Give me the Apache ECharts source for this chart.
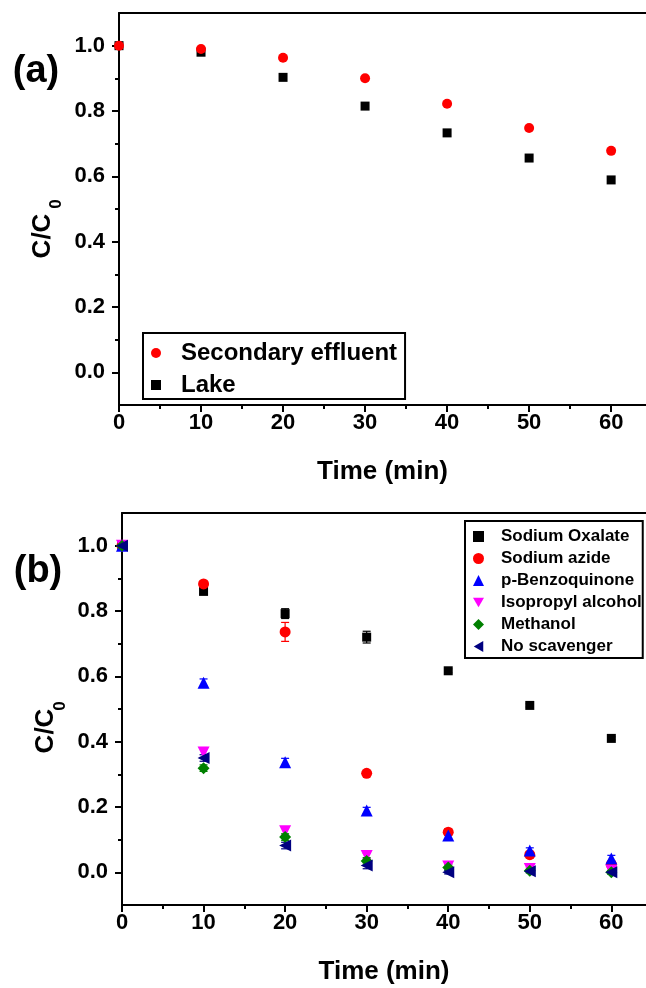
<!DOCTYPE html>
<html>
<head>
<meta charset="utf-8">
<script src="https://cdn.jsdelivr.net/npm/echarts@6/dist/echarts.min.js"></script>
<style>
html,body{margin:0;padding:0;background:#fff;}
#chart{width:646px;height:988px;}
</style>
</head>
<body>
<div id="chart"></div>
<script>
// ---- Data ----
const timeA = [0, 10, 20, 30, 40, 50, 60];
const secondaryEffluent = [1.0, 0.99, 0.963, 0.90, 0.822, 0.748, 0.678];
const lake = [1.0, 0.98, 0.903, 0.815, 0.733, 0.656, 0.589];

const timeB = [0, 10, 20, 30, 40, 50, 60];
const sodiumOxalate    = [1.0, 0.86, 0.792, 0.72, 0.617, 0.511, 0.41];
const sodiumAzide      = [1.0, 0.883, 0.736, 0.303, 0.123, 0.054, 0.024];
const pBenzoquinone    = [1.0, 0.58, 0.337, 0.189, 0.113, 0.067, 0.042];
const isopropylAlcohol = [1.0, 0.367, 0.126, 0.05, 0.018, 0.01, 0.005];
const methanol         = [1.0, 0.319, 0.108, 0.035, 0.015, 0.005, 0.0];
const noScavenger      = [1.0, 0.35, 0.082, 0.021, 0.0, 0.003, 0.0];

const errOxalate   = [0, 0.008, 0.015, 0.018, 0.006, 0.005, 0.005];
const errAzide     = [0, 0.008, 0.029, 0.005, 0.01, 0.01, 0.01];
const errBenzo     = [0, 0.012, 0.012, 0.01, 0.015, 0.008, 0.01];
const errIsoprop   = [0, 0.015, 0.012, 0.008, 0.008, 0.005, 0.005];
const errMethanol  = [0, 0.01, 0.01, 0.01, 0.008, 0.005, 0.005];
const errNoScav    = [0, 0.01, 0.01, 0.01, 0.005, 0.005, 0.005];

const xMajorTicks = [0, 10, 20, 30, 40, 50, 60];
const xMinorTicks = [5, 15, 25, 35, 45, 55];
const yMajorTicks = [0, 0.2, 0.4, 0.6, 0.8, 1.0];
const yMinorTicks = [0.1, 0.3, 0.5, 0.7, 0.9];

const legendA = ['Secondary effluent', 'Lake'];
const legendB = ['Sodium Oxalate', 'Sodium azide', 'p-Benzoquinone', 'Isopropyl alcohol', 'Methanol', 'No scavenger'];

// ---- Chart ----
const FONT = '"Liberation Sans", Arial, sans-serif';
const TRI_DOWN = 'path://M0,0L2,0L1,1.732Z';
const TRI_LEFT = 'path://M1.732,0L1.732,2L0,1Z';
const chart = echarts.init(document.getElementById('chart'), null, {renderer: 'canvas'});

function pairs(xs, ys) { return xs.map((x, i) => [x, ys[i]]); }
function triples(xs, ys, es) { return xs.map((x, i) => [x, ys[i], es[i]]); }

const X_MIN = 0, X_MAX = 64.25, Y_MIN = -0.1, Y_MAX = 1.1;

function xAxesFor(gridIndex) {
  return [
    {
      type: 'value', gridIndex, position: 'bottom', min: X_MIN, max: X_MAX,
      name: 'Time (min)', nameLocation: 'middle', nameGap: 54,
      nameTextStyle: {fontFamily: FONT, fontWeight: 'bold', fontSize: 26, color: '#000'},
      axisLine: {show: true, onZero: false, lineStyle: {color: '#000', width: 2}},
      axisTick: {show: true, inside: false, length: 7, lineStyle: {color: '#000', width: 2}, customValues: xMajorTicks},
      axisLabel: {show: true, margin: 7, fontFamily: FONT, fontWeight: 'bold', fontSize: 22, color: '#000', customValues: xMajorTicks},
      splitLine: {show: false}
    },
    {
      type: 'value', gridIndex, position: 'bottom', min: X_MIN, max: X_MAX,
      axisLine: {show: false, onZero: false},
      axisTick: {show: true, inside: false, length: 4, lineStyle: {color: '#000', width: 2}, customValues: xMinorTicks},
      axisLabel: {show: false}, splitLine: {show: false}
    },
    {
      type: 'value', gridIndex, position: 'top', min: X_MIN, max: X_MAX,
      axisLine: {show: true, onZero: false, lineStyle: {color: '#000', width: 2}},
      axisTick: {show: false}, axisLabel: {show: false}, splitLine: {show: false}
    }
  ];
}
function yAxesFor(gridIndex) {
  return [
    {
      type: 'value', gridIndex, position: 'left', min: Y_MIN, max: Y_MAX,
      axisLine: {show: true, onZero: false, lineStyle: {color: '#000', width: 2}},
      axisTick: {show: true, inside: false, length: 7, lineStyle: {color: '#000', width: 2}, customValues: yMajorTicks},
      axisLabel: {show: true, margin: 14, fontFamily: FONT, fontWeight: 'bold', fontSize: 22, color: '#000',
                  customValues: yMajorTicks, formatter: v => Number(v).toFixed(1)},
      splitLine: {show: false}
    },
    {
      type: 'value', gridIndex, position: 'left', min: Y_MIN, max: Y_MAX,
      axisLine: {show: false, onZero: false},
      axisTick: {show: true, inside: false, length: 4, lineStyle: {color: '#000', width: 2}, customValues: yMinorTicks},
      axisLabel: {show: false}, splitLine: {show: false}
    }
  ];
}

function errorSeries(xAxisIndex, yAxisIndex, data, color) {
  return {
    type: 'custom', xAxisIndex, yAxisIndex, silent: true, z: 1,
    encode: {x: 0, y: 1},
    data,
    renderItem: function (params, api) {
      const x = api.value(0), y = api.value(1), e = api.value(2);
      if (!e) return null;
      const hi = api.coord([x, y + e]);
      const lo = api.coord([x, y - e]);
      const cw = 4;
      const st = {stroke: color, lineWidth: 1.2};
      return {type: 'group', children: [
        {type: 'line', shape: {x1: hi[0], y1: hi[1], x2: lo[0], y2: lo[1]}, style: st},
        {type: 'line', shape: {x1: hi[0] - cw, y1: hi[1], x2: hi[0] + cw, y2: hi[1]}, style: st},
        {type: 'line', shape: {x1: lo[0] - cw, y1: lo[1], x2: lo[0] + cw, y2: lo[1]}, style: st}
      ]};
    }
  };
}

function scatter(name, xAxisIndex, yAxisIndex, data, color, symbol, size) {
  return {
    name, type: 'scatter', xAxisIndex, yAxisIndex, data, z: 3,
    symbol, symbolSize: size,
    itemStyle: {color: color, opacity: 1},
    emphasis: {disabled: true}
  };
}

const option = {
  backgroundColor: '#fff',
  animation: false,
  grid: [
    {left: 119, top: 13, width: 527, height: 392},
    {left: 122, top: 513, width: 524, height: 392}
  ],
  xAxis: [...xAxesFor(0), ...xAxesFor(1)],
  yAxis: [...yAxesFor(0), ...yAxesFor(1)],
  legend: [
    {
      data: legendA, orient: 'vertical', left: 143, top: 333,
      padding: [8, 8, 2, 8], itemGap: 8, itemWidth: 10, itemHeight: 10,
      borderColor: '#000', borderWidth: 2, borderRadius: 0,
      selectedMode: false,
      textStyle: {fontFamily: FONT, fontWeight: 'bold', fontSize: 24, lineHeight: 24, color: '#000', padding: [0, 0, 0, 15]}
    },
    {
      data: legendB, orient: 'vertical', left: 465, top: 521,
      padding: [7, 1, 3, 8], itemGap: 5, itemWidth: 11, itemHeight: 11,
      borderColor: '#000', borderWidth: 2, borderRadius: 0,
      selectedMode: false,
      textStyle: {fontFamily: FONT, fontWeight: 'bold', fontSize: 17, lineHeight: 17, color: '#000', padding: [0, 0, 0, 12]}
    }
  ],
  series: [
    scatter('Lake', 0, 0, pairs(timeA, lake), '#000000', 'rect', 9),
    scatter('Secondary effluent', 0, 0, pairs(timeA, secondaryEffluent), '#ff0000', 'circle', 10),
    errorSeries(3, 2, triples(timeB, sodiumOxalate, errOxalate), '#000000'),
    scatter('Sodium Oxalate', 3, 2, pairs(timeB, sodiumOxalate), '#000000', 'rect', 9),
    errorSeries(3, 2, triples(timeB, sodiumAzide, errAzide), '#ff0000'),
    scatter('Sodium azide', 3, 2, pairs(timeB, sodiumAzide), '#ff0000', 'circle', 11),
    errorSeries(3, 2, triples(timeB, pBenzoquinone, errBenzo), '#0000ff'),
    scatter('p-Benzoquinone', 3, 2, pairs(timeB, pBenzoquinone), '#0000ff', 'triangle', 12),
    errorSeries(3, 2, triples(timeB, isopropylAlcohol, errIsoprop), '#ff00ff'),
    scatter('Isopropyl alcohol', 3, 2, pairs(timeB, isopropylAlcohol), '#ff00ff', TRI_DOWN, 12),
    errorSeries(3, 2, triples(timeB, methanol, errMethanol), '#008000'),
    scatter('Methanol', 3, 2, pairs(timeB, methanol), '#008000', 'diamond', 12),
    errorSeries(3, 2, triples(timeB, noScavenger, errNoScav), '#000080'),
    scatter('No scavenger', 3, 2, pairs(timeB, noScavenger), '#000080', TRI_LEFT, 12)
  ],
  graphic: [
    {type: 'text', x: 36, y: 72, style: {text: '(a)', fontFamily: FONT, fontWeight: 'bold', fontSize: 38, fill: '#000', align: 'center', verticalAlign: 'middle'}},
    {type: 'text', x: 43, y: 236, rotation: Math.PI / 2, style: {text: 'C/C', fontFamily: FONT, fontWeight: 'bold', fontSize: 26, fill: '#000', align: 'center', verticalAlign: 'middle'}},
    {type: 'text', x: 56, y: 204, rotation: Math.PI / 2, style: {text: '0', fontFamily: FONT, fontWeight: 'bold', fontSize: 17, fill: '#000', align: 'center', verticalAlign: 'middle'}},
    {type: 'text', x: 38, y: 572, style: {text: '(b)', fontFamily: FONT, fontWeight: 'bold', fontSize: 38, fill: '#000', align: 'center', verticalAlign: 'middle'}},
    {type: 'text', x: 46, y: 731, rotation: Math.PI / 2, style: {text: 'C/C', fontFamily: FONT, fontWeight: 'bold', fontSize: 26, fill: '#000', align: 'center', verticalAlign: 'middle'}},
    {type: 'text', x: 60, y: 706, rotation: Math.PI / 2, style: {text: '0', fontFamily: FONT, fontWeight: 'bold', fontSize: 17, fill: '#000', align: 'center', verticalAlign: 'middle'}}
  ]
};
chart.setOption(option);
</script>
</body>
</html>
